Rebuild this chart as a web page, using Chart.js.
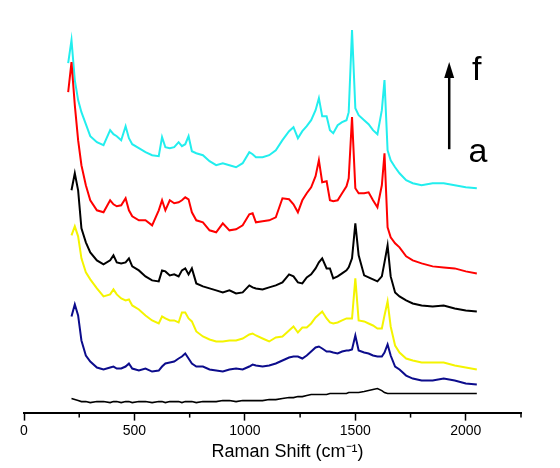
<!DOCTYPE html>
<html>
<head>
<meta charset="utf-8">
<script src="https://cdn.jsdelivr.net/npm/chart.js@4.4.1/dist/chart.umd.min.js"></script>
<style>
  html, body { margin: 0; padding: 0; background: #fff; }
  #wrap { width: 560px; height: 468px; }
</style>
</head>
<body>
<div id="wrap"><canvas id="raman"></canvas></div>
<script>
// --- Data (Raman shift in cm-1, intensity in arbitrary offset units) ---
const ramanShift = [200, 215, 230, 245, 260, 280, 300, 330, 360, 390, 405, 420, 440, 460, 475, 490, 520, 550, 580, 610,
    625, 640, 660, 680, 700, 715, 730, 745, 760, 780, 810, 840, 870, 900, 930, 960, 990, 1020, 1035, 1050,
    1080, 1110, 1140, 1170, 1200, 1220, 1240, 1260, 1280, 1300, 1320, 1335, 1350, 1370, 1385, 1400, 1420, 1440, 1460, 1470,
    1485, 1500, 1515, 1540, 1560, 1580, 1600, 1620, 1632, 1646, 1660, 1680, 1700, 1730, 1760, 1800, 1850, 1900, 1950, 2000, 2050];

const spectrumA = [null, 14, 13, 12, 11, 11, 10, 11, 11, 10, 11, 11, 10, 11, 11, 10, 11, 11, 10, 11,
    11, 10, 11, 11, 11, 10, 11, 11, 11, 10, 11, 11, 11, 12, 12, 11, 12, 12, 12, 12,
    12, 13, 13, 14, 15, 15, 16, 16, 17, 18, 18, 18, 18, 18, 19, 19, 19, 19, 19, 20,
    20, 20, 20, 21, 22, 23, 24, 22, 20, 19, 19, 19, 19, 19, 19, 19, 19, 19, 19, 19, 19];

const spectrumB = [null, 96, 108, 97, 72, 57, 51, 45, 43, 45, 46, 44, 44, 46, 49, 44, 42, 44, 41, 42,
    46, 49, 50, 51, 54, 56, 59, 54, 49, 46, 46, 43, 42, 41, 43, 44, 43, 46, 48, 47,
    46, 47, 49, 52, 55, 56, 56, 54, 57, 61, 65, 66, 64, 61, 61, 60, 59, 61, 62, 62,
    63, 77, 62, 60, 59, 57, 56, 56, 60, 68, 57, 46, 43, 37, 34, 32, 32, 34, 32, 29, 28];

const spectrumC = [null, 177, 186, 176, 154, 140, 133, 124, 116, 118, 123, 118, 114, 112, 113, 107, 103, 97, 92, 89,
    96, 94, 92, 92, 90, 100, 100, 94, 91, 81, 76, 73, 71, 71, 72, 72, 74, 78, 79, 77,
    74, 71, 75, 76, 82, 86, 80, 85, 85, 89, 95, 98, 101, 94, 90, 89, 90, 92, 94, 94,
    94, 134, 92, 91, 89, 87, 84, 84, 97, 111, 86, 67, 60, 54, 52, 50, 50, 50, 47, 45, 43];

const spectrumD = [null, 222, 239, 222, 184, 170, 160, 152, 148, 152, 157, 150, 149, 150, 154, 146, 142, 136, 132, 131,
    142, 141, 137, 138, 136, 142, 144, 138, 144, 129, 126, 124, 122, 120, 122, 119, 120, 127, 125, 124,
    123, 125, 127, 130, 138, 136, 130, 129, 135, 138, 144, 150, 154, 144, 144, 134, 136, 139, 142, 145,
    154, 189, 157, 137, 135, 133, 131, 136, 150, 167, 136, 120, 116, 112, 109, 107, 106, 107, 104, 102, 101];

const spectrumE = [320, 350, 307, 272, 247, 227, 212, 202, 200, 212, 208, 206, 207, 214, 202, 196, 192, 192, 187, 202,
    212, 202, 212, 209, 210, 212, 215, 213, 200, 192, 190, 182, 180, 189, 182, 183, 187, 198, 199, 190,
    191, 192, 195, 214, 213, 208, 200, 212, 219, 225, 236, 252, 230, 231, 212, 211, 212, 219, 226, 234,
    295, 224, 219, 219, 220, 212, 205, 227, 259, 185, 175, 169, 165, 156, 152, 149, 146, 145, 144, 141, 139];

const spectrumF = [349, 372, 332, 312, 300, 288, 276, 270, 267, 282, 278, 276, 272, 286, 274, 268, 264, 260, 257, 256,
    275, 265, 264, 265, 270, 266, 268, 276, 261, 259, 257, 251, 247, 249, 247, 245, 249, 260, 258, 255,
    255, 257, 262, 272, 281, 285, 274, 281, 286, 292, 302, 314, 296, 296, 282, 279, 287, 290, 292, 300,
    382, 304, 297, 292, 288, 282, 278, 302, 332, 262, 252, 245, 239, 232, 229, 227, 229, 229, 227, 225, 224];

const seriesLabels = ['a', 'b', 'c', 'd', 'e', 'f'];
const seriesColors = ['#000000', '#0c0c8c', '#f4f400', '#000000', '#ff0000', '#22eeee'];
const xTicksMajor = [0, 500, 1000, 1500, 2000];

// --- Build datasets ---
const allSpectra = [spectrumA, spectrumB, spectrumC, spectrumD, spectrumE, spectrumF];
const datasets = allSpectra.map((vals, i) => ({
    label: seriesLabels[i],
    data: ramanShift.map((x, j) => ({ x: x, y: vals[j] })),
    borderColor: seriesColors[i],
    borderWidth: i === 0 ? 1.6 : 2,
    pointRadius: 0,
    tension: 0,
    fill: false
}));

// minor ticks (shorter) drawn on the x scale
const minorTicks = {
    id: 'minorTicks',
    afterDraw(chart) {
        const xs = chart.scales.x;
        const ctx = chart.ctx;
        ctx.save();
        ctx.strokeStyle = '#000';
        ctx.lineWidth = 1.5;
        xs.ticks.forEach(t => {
            if (xTicksMajor.includes(t.value)) return;
            const px = xs.getPixelForValue(t.value);
            ctx.beginPath();
            ctx.moveTo(px, xs.top);
            ctx.lineTo(px, xs.top + 5);
            ctx.stroke();
        });
        ctx.restore();
    }
};

// a -> f arrow annotation
const arrowNote = {
    id: 'arrowNote',
    afterDraw(chart) {
        const xs = chart.scales.x, ys = chart.scales.y;
        const ctx = chart.ctx;
        const ax = xs.getPixelForValue(1925);
        const yTop = ys.getPixelForValue(350);
        const yBot = ys.getPixelForValue(263);
        ctx.save();
        ctx.strokeStyle = '#000';
        ctx.fillStyle = '#000';
        ctx.lineWidth = 2.5;
        ctx.beginPath();
        ctx.moveTo(ax, yBot);
        ctx.lineTo(ax, yTop + 12);
        ctx.stroke();
        ctx.beginPath();
        ctx.moveTo(ax, yTop);
        ctx.lineTo(ax - 5, yTop + 16);
        ctx.lineTo(ax + 5, yTop + 16);
        ctx.closePath();
        ctx.fill();
        ctx.font = '34px "Liberation Sans", Arial, sans-serif';
        ctx.textAlign = 'center';
        ctx.textBaseline = 'alphabetic';
        ctx.fillText('f', xs.getPixelForValue(2050), ys.getPixelForValue(332));
        ctx.fillText('a', xs.getPixelForValue(2055), ys.getPixelForValue(250));
        ctx.restore();
    }
};

new Chart(document.getElementById('raman'), {
    type: 'line',
    data: { datasets },
    options: {
        responsive: true,
        maintainAspectRatio: false,
        animation: false,
        layout: { padding: { left: 24, right: 39, top: 12, bottom: 2 } },
        plugins: { legend: { display: false }, tooltip: { enabled: false } },
        scales: {
            x: {
                type: 'linear',
                min: 0,
                max: 2250,
                border: { display: true, color: '#000', width: 2 },
                grid: {
                    drawOnChartArea: false,
                    drawTicks: true,
                    tickLength: 8,
                    tickWidth: 1.5,
                    tickColor: (c) => (c.tick && xTicksMajor.includes(c.tick.value)) ? '#000' : 'rgba(0,0,0,0)'
                },
                ticks: {
                    stepSize: 250,
                    autoSkip: false,
                    maxRotation: 0,
                    color: '#000',
                    padding: 2,
                    font: { family: '"Liberation Sans", Arial, sans-serif', size: 14 },
                    callback: (v) => xTicksMajor.includes(v) ? String(v) : ''
                },
                title: {
                    display: true,
                    text: '      Raman Shift (cm\u207B\u00B9)',
                    color: '#000',
                    padding: { top: 0, bottom: 3 },
                    font: { family: '"Liberation Sans", Arial, sans-serif', size: 18 }
                }
            },
            y: { display: false, min: 0, max: 400 }
        }
    },
    plugins: [minorTicks, arrowNote]
});
</script>
</body>
</html>
